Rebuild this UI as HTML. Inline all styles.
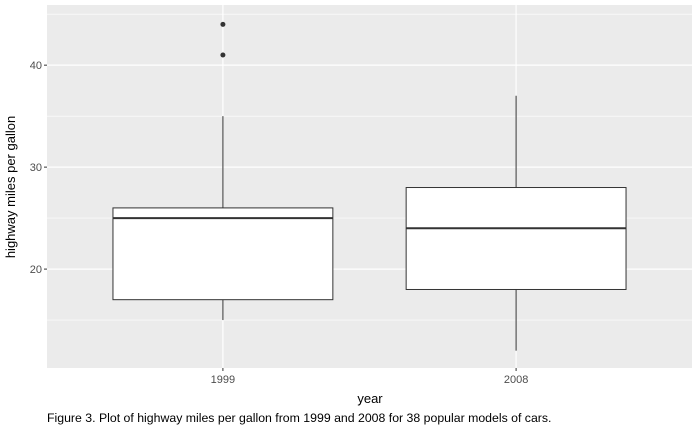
<!DOCTYPE html>
<html><head><meta charset="utf-8"><style>
body{margin:0;background:#fff;font-family:"Liberation Sans",Arial,sans-serif}
svg text{font-family:"Liberation Sans",Arial,sans-serif}
</style></head><body>
<svg id="chart" width="700" height="432" xmlns="http://www.w3.org/2000/svg">
<rect x="0" y="0" width="700" height="432" fill="#fff"/>
<g id="panel"></g>
<text x="15" y="187" transform="rotate(-90 15 187)" text-anchor="middle" font-size="13" fill="#000">highway miles per gallon</text>
<text x="370" y="403" text-anchor="middle" font-size="13" fill="#000">year</text>
<text x="47" y="422" font-size="12.3" fill="#000">Figure 3. Plot of highway miles per gallon from 1999 and 2008 for 38 popular models of cars.</text>
</svg>
<script>
const categories=["1999","2008"];
const lowerWhisker=[15,12];
const q1=[17,18];
const median=[25,24];
const q3=[26,28];
const upperWhisker=[35,37];
const outliers=[[41,44],[]];
const yTicks=[20,30,40];
const yMinor=[15,25,35,45];

const PX0=47,PX1=692,PY0=5,PY1=368;
const yMin=10.3,yMax=45.9;
function y(v){return PY1-(v-yMin)/(yMax-yMin)*(PY1-PY0);}
function x(i){return PX0+(i+1-0.4)/2.2*(PX1-PX0);}
const bw=0.75/2.2*(PX1-PX0);
const NS="http://www.w3.org/2000/svg";
const g=document.getElementById('panel');
function el(t,a){const e=document.createElementNS(NS,t);for(const k in a)e.setAttribute(k,a[k]);g.appendChild(e);return e;}
let bg=el('rect',{x:PX0,y:PY0,width:PX1-PX0,height:PY1-PY0,fill:'#EBEBEB'});


yMinor.forEach(v=>{if(y(v)>=PY0){let l=el('line',{x1:PX0,x2:PX1,y1:y(v),y2:y(v),stroke:'#fff','stroke-width':0.6});

}});
yTicks.forEach(v=>{let l=el('line',{x1:PX0,x2:PX1,y1:y(v),y2:y(v),stroke:'#fff','stroke-width':1.2});


let tk=el('line',{x1:PX0-3,x2:PX0,y1:y(v),y2:y(v),stroke:'#333','stroke-width':1});


let t=el('text',{x:PX0-5,y:y(v)+4,'text-anchor':'end','font-size':11,fill:'#4d4d4d'});t.textContent=v;

});
categories.forEach((c,i)=>{const cx=x(i);
let l=el('line',{x1:cx,x2:cx,y1:PY0,y2:PY1,stroke:'#fff','stroke-width':1.2});


let tk=el('line',{x1:cx,x2:cx,y1:PY1,y2:PY1+3,stroke:'#333'});


let t=el('text',{x:cx,y:PY1+15,'text-anchor':'middle','font-size':11,fill:'#4d4d4d'});t.textContent=c;


let w1=el('line',{x1:cx,x2:cx,y1:y(q3[i]),y2:y(upperWhisker[i]),stroke:'#333'});


let w2=el('line',{x1:cx,x2:cx,y1:y(q1[i]),y2:y(lowerWhisker[i]),stroke:'#333'});


let b=el('rect',{x:cx-bw/2,y:y(q3[i]),width:bw,height:y(q1[i])-y(q3[i]),fill:'#fff',stroke:'#333'});


let m=el('line',{x1:cx-bw/2,x2:cx+bw/2,y1:y(median[i]),y2:y(median[i]),stroke:'#333','stroke-width':2});


outliers[i].forEach(v=>{let p=el('circle',{cx:cx,cy:y(v),r:2.5,fill:'#333'});

});
});
</script>
</body></html>
